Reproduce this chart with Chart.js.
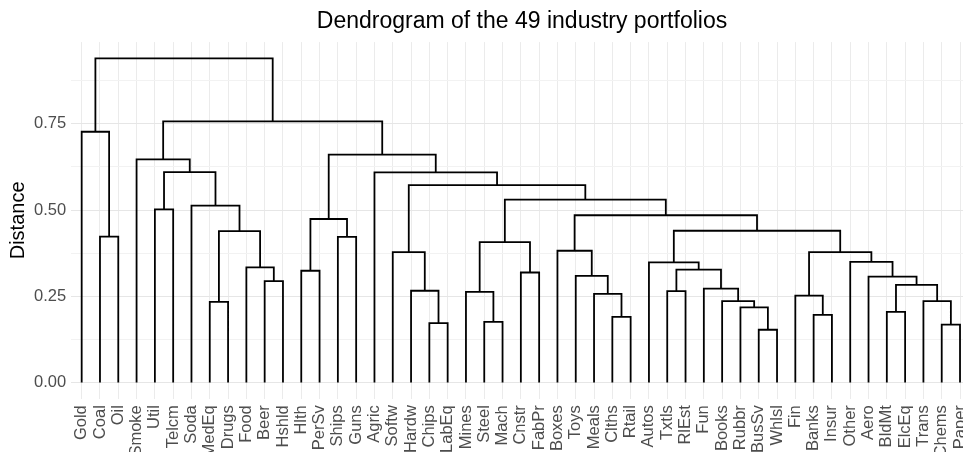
<!DOCTYPE html>
<html>
<head>
<meta charset="utf-8">
<script src="https://cdn.jsdelivr.net/npm/chart.js@4"></script>
<style>
  html, body { margin: 0; padding: 0; background: #fff; overflow: hidden; }
  #wrap { width: 1044px; height: 500px; }
</style>
</head>
<body>
<div id="wrap"><canvas id="dendro"></canvas></div>
<script>
// leaf order along the x axis
var leaves = ["Gold","Coal","Oil","Smoke","Util","Telcm","Soda","MedEq","Drugs","Food","Beer","Hshld",
  "Hlth","PerSv","Ships","Guns","Agric","Softw","Hardw","Chips","LabEq","Mines","Steel","Mach","Cnstr",
  "FabPr","Boxes","Toys","Meals","Clths","Rtail","Autos","Txtls","RlEst","Fun","Books","Rubbr","BusSv",
  "Whlsl","Fin","Banks","Insur","Other","Aero","BldMt","ElcEq","Trans","Chems","Paper"];

// merges, bottom up: a string is a leaf, a number is an earlier merge (1-based)
var mergeLeft = ["Coal","Util","MedEq","Beer","Food",3,"Soda",2,"Smoke","Hlth","Ships",10,"Chips","Hardw",
  "Softw","Steel","Mines","Cnstr",17,"Clths","Meals","Toys","Boxes","Txtls","BusSv","Rubbr","Books","Fun",
  24,"Autos","Banks","Fin","BldMt","Chems","Trans",33,"Aero","Other",32,30,23,19,15,"Agric",12,9,"Gold",47];
var mergeRight = ["Oil","Telcm","Drugs","Hshld",4,5,6,7,8,"PerSv","Guns",11,"LabEq",13,14,"Mach",16,"FabPr",
  18,"Rtail",20,21,22,"RlEst","Whlsl",25,26,27,28,29,"Insur",31,"ElcEq","Paper",34,35,36,37,38,39,40,41,42,
  43,44,45,1,46];
var mergeHeight = [0.423,0.502,0.234,0.294,0.334,0.439,0.513,0.610,0.647,0.324,0.422,0.474,0.172,0.266,
  0.378,0.176,0.263,0.319,0.407,0.190,0.257,0.309,0.382,0.265,0.153,0.218,0.236,0.272,0.327,0.348,0.196,
  0.252,0.205,0.168,0.236,0.283,0.307,0.350,0.378,0.440,0.485,0.530,0.572,0.609,0.661,0.757,0.727,0.940];

var yTicks = [0, 0.25, 0.5, 0.75];

// build the U shaped links
var nodes = [];
var links = [];
function pos(ref) {
  if (typeof ref === "string") return { x: leaves.indexOf(ref) + 1, h: 0 };
  return nodes[ref - 1];
}
mergeHeight.forEach(function (h, i) {
  var a = pos(mergeLeft[i]), b = pos(mergeRight[i]);
  links.push({ x: a.x, y: a.h }, { x: a.x, y: h }, { x: b.x, y: h }, { x: b.x, y: b.h }, { x: b.x, y: null });
  nodes.push({ x: (a.x + b.x) / 2, h: h });
});

var font = "'Liberation Sans', Arial, sans-serif";

var ctx = document.getElementById("dendro").getContext("2d");
var chart = new Chart(ctx, {
  type: "line",
  data: {
    datasets: [{
      data: links,
      borderColor: "#000",
      borderWidth: 1.8,
      pointRadius: 0,
      tension: 0,
      spanGaps: false,
      borderJoinStyle: "miter"
    }]
  },
  options: {
    responsive: true,
    maintainAspectRatio: false,
    animation: false,
    layout: { padding: 0 },
    plugins: {
      legend: { display: false },
      tooltip: { enabled: false },
      title: {
        display: true,
        text: "Dendrogram of the 49 industry portfolios",
        color: "#000",
        font: { family: font, size: 23, weight: "normal" },
        padding: { top: 8, bottom: 6.5 }
      }
    },
    scales: {
      x: {
        type: "linear",
        min: 0.4,
        max: 49.6,
        border: { display: false },
        grid: { color: "#ebebeb", lineWidth: 1, drawTicks: false },
        afterBuildTicks: function (axis) {
          axis.ticks = leaves.map(function (_, i) { return { value: i + 1 }; });
        },
        afterFit: function (axis) { axis.height = 500 - 398.7; },
        ticks: {
          autoSkip: false,
          minRotation: 90,
          maxRotation: 90,
          padding: 6.5,
          color: "#4d4d4d",
          font: { family: font, size: 16.5 },
          callback: function (v) { return leaves[v - 1]; }
        }
      },
      y: {
        type: "linear",
        min: -0.047,
        max: 0.987,
        border: { display: false },
        grid: {
          drawTicks: false,
          lineWidth: 1,
          color: function (c) {
            return yTicks.indexOf(c.tick.value) >= 0 ? "#e6e6e6" : "#f2f2f2";
          }
        },
        afterBuildTicks: function (axis) {
          var t = [];
          for (var k = 0; k <= 7; k++) t.push({ value: k * 0.125 });
          axis.ticks = t;
        },
        afterFit: function (axis) { axis.width = 70.7; },
        title: {
          display: true,
          text: "Distance",
          color: "#000",
          font: { family: font, size: 20 },
          padding: { top: 6, bottom: 0 }
        },
        ticks: {
          padding: 4.5,
          color: "#4d4d4d",
          font: { family: font, size: 16.5 },
          callback: function (v) {
            return yTicks.indexOf(v) >= 0 ? v.toFixed(2) : "";
          }
        }
      },
      // empty strip on the right so the panel runs past the window edge like the original
      pad: {
        type: "linear",
        position: "right",
        min: 0,
        max: 1,
        border: { display: false },
        grid: { display: false },
        ticks: { display: false },
        afterFit: function (axis) { axis.width = 73; }
      }
    }
  }
});
</script>
</body>
</html>
